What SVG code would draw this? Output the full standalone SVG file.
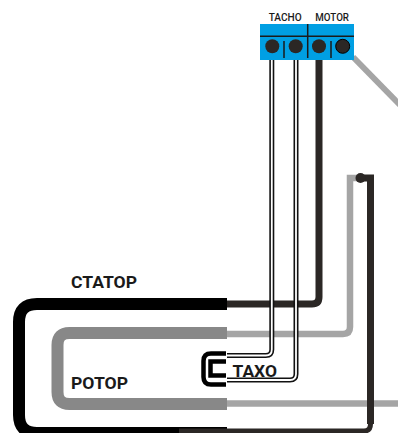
<svg xmlns="http://www.w3.org/2000/svg" width="398" height="433" viewBox="0 0 398 433">
<style>
.f{fill:none}
.lbl{font-family:"Roboto","Liberation Sans",sans-serif;font-weight:700;font-size:17.300px;fill:#1a1a1a;stroke:none}
.small{font-family:"Roboto","Liberation Sans",sans-serif;font-weight:500;font-size:11px;fill:#1a1a1a}
.dark{stroke:#2b2725}
.g{stroke:#a5a5a5}
.term{fill:#2b2725}
</style>
<g id="stator" class="f">
<path stroke="#000" stroke-width="12" d="M227 304H37Q19 304 19 322V415Q19 433 37 433H227"/>
<text class="lbl" x="71" y="288" textLength="66" lengthAdjust="spacingAndGlyphs">СТАТОР</text>
</g>
<g id="rotor" class="f">
<path stroke="#888" stroke-width="12" d="M227 333H69.500Q57.500 333 57.500 345V392Q57.500 404 69.500 404H227"/>
<text class="lbl" x="71" y="389" textLength="57" lengthAdjust="spacingAndGlyphs">РОТОР</text>
</g>
<g id="taxo" class="f">
<path stroke="#000" stroke-width="4.500" d="M226 353.500H211Q203.500 353.500 203.500 361V377Q203.500 384.500 211 384.500H226"/>
<path stroke="#000" stroke-width="4.500" d="M226 361.500H210.500V375.500H226"/>
<text class="lbl" x="232.500" y="376.500" textLength="44.500" lengthAdjust="spacingAndGlyphs">ТАХО</text>
</g>
<g id="connectors" class="f">
<path class="g" stroke-width="6" d="M353 57L400 105"/>
<path class="g" stroke-width="6.500" d="M227 403.500H398"/>
<path class="g" stroke-width="6.500" d="M227 334H343Q350 334 350 327V178H361"/>
<path class="dark" stroke-width="7" d="M361 178H370.500V424"/>
<path class="dark" stroke-width="5" d="M370.500 424Q370.500 431 364 431H179"/>
<circle cx="360.500" cy="178" r="5" fill="#2b2725"/>
<path class="dark" stroke-width="7" d="M227 304H312Q319 304 319 297V60"/>
<g stroke="#111" stroke-width="5">
<path d="M271.800 60V349.500Q271.800 355.500 265.800 355.500H227"/>
<path d="M296 60V374Q296 380 290 380H227"/>
</g>
<g stroke="#fff" stroke-width="1.800">
<path d="M271.800 60V349.500Q271.800 355.500 265.800 355.500H227"/>
<path d="M296 60V374Q296 380 290 380H227"/>
</g>
</g>
<g id="terminal">
<rect x="260" y="24" width="94" height="36" fill="#009fe3"/>
<path stroke="#1a1a1a" stroke-width="1.500" fill="none" d="M260 36.300H354M307.700 24V58M284 41V58M331 41V58"/>
<circle class="term" cx="272.300" cy="46.300" r="7"/>
<circle class="term" cx="295.700" cy="46.300" r="7"/>
<circle class="term" cx="319" cy="46.300" r="7"/>
<circle class="term" cx="342.700" cy="46.300" r="7" stroke="#000"/>
<text class="small" x="268.700" y="21" textLength="33" lengthAdjust="spacingAndGlyphs">TACHO</text>
<text class="small" x="315.300" y="21" textLength="33.700" lengthAdjust="spacingAndGlyphs">MOTOR</text>
</g>
</svg>
